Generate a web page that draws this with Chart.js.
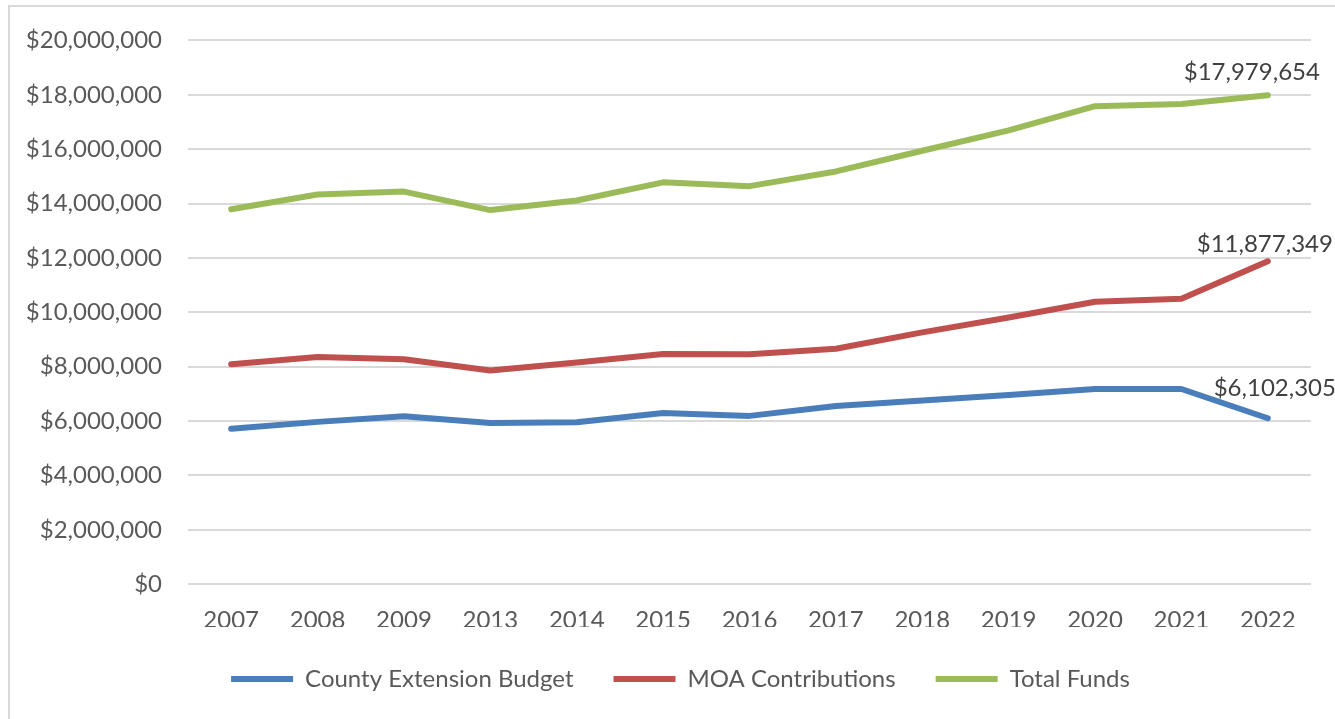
<!DOCTYPE html>
<html>
<head>
<meta charset="utf-8">
<script src="https://cdn.jsdelivr.net/npm/chart.js@4/dist/chart.umd.min.js"></script>
<style>
  html, body { margin: 0; padding: 0; background: #fff; }
  #wrap { position: relative; width: 1335px; height: 719px; }
  #frame { position: absolute; left: 8px; top: 5px; right: -10px; bottom: -10px;
           border-left: 2px solid #d9d9d9; border-top: 2px solid #d9d9d9; pointer-events: none; }
</style>
</head>
<body>
<div id="wrap">
  <canvas id="chart" width="1335" height="719"></canvas>
  <div id="frame"></div>
</div>
<script>
const years = ['2007', '2008', '2009', '2013', '2014', '2015', '2016', '2017', '2018', '2019', '2020', '2021', '2022'];
const countyBudget = [5720000, 5970000, 6180000, 5930000, 5960000, 6300000, 6190000, 6550000, 6760000, 6960000, 7180000, 7180000, 6102305];
const moaContrib = [8090000, 8360000, 8270000, 7860000, 8150000, 8470000, 8460000, 8660000, 9260000, 9810000, 10390000, 10500000, 11877349];
const totalFunds = [13790000, 14330000, 14440000, 13760000, 14110000, 14780000, 14640000, 15180000, 15940000, 16690000, 17580000, 17660000, 17979654];
const seriesNames = ['County Extension Budget', 'MOA Contributions', 'Total Funds'];
const seriesColors = ['#4a7ebb', '#c0504d', '#9bbb59'];

const FONT = 'Lato';
const money = v => '$' + Number(v).toLocaleString('en-US');

// label offsets for the end-of-line values (nudged like in the original)
const endLabelShift = [[7, -30], [-3, -17], [-16, -23]];

const endLabels = {
  id: 'endLabels',
  afterLayout(chart){
    // legend in the original sits a bit right of the canvas centre
    chart.legend.left += 25;
    chart.legend.right += 25;
  },
  afterDatasetsDraw(chart){
    const ctx = chart.ctx;
    ctx.save();
    ctx.font = `24px ${FONT}`;
    ctx.fillStyle = '#404040';
    ctx.textAlign = 'center';
    ctx.textBaseline = 'middle';
    chart.data.datasets.forEach(function(ds, i){
      const meta = chart.getDatasetMeta(i);
      const last = meta.data.length - 1;
      const pt = meta.data[last];
      ctx.fillText(money(ds.data[last]), pt.x + endLabelShift[i][0], pt.y + endLabelShift[i][1]);
    });
    ctx.restore();
  }
};

function makeSet(label, data, color){
  return {
    label: label,
    data: data,
    borderColor: color,
    backgroundColor: color,
    borderWidth: 6,
    borderCapStyle: 'round',
    borderJoinStyle: 'round',
    pointRadius: 0,
    pointStyle: 'line',
    tension: 0
  };
}

new Chart(document.getElementById('chart'), {
  type: 'line',
  plugins: [endLabels],
  data: {
    labels: years,
    datasets: [
      makeSet(seriesNames[0], countyBudget, seriesColors[0]),
      makeSet(seriesNames[1], moaContrib, seriesColors[1]),
      makeSet(seriesNames[2], totalFunds, seriesColors[2])
    ]
  },
  options: {
    responsive: false,
    animation: false,
    events: [],
    layout: {
      padding: { top: 36, right: 24, bottom: 18, left: 0 }
    },
    plugins: {
      tooltip: { enabled: false },
      legend: {
        position: 'bottom',
        labels: {
          usePointStyle: true,
          pointStyle: 'line',
          pointStyleWidth: 62,
          color: '#595959',
          padding: 40,
          font: { family: FONT, size: 24 }
        }
      }
    },
    scales: {
      x: {
        offset: true,
        grid: { display: false, drawTicks: false },
        border: { display: false },
        ticks: {
          color: '#595959',
          padding: 22,
          autoSkip: false,
          maxRotation: 0,
          font: { family: FONT, size: 24 }
        },
        // legend padding is big (for item spacing), so pull it up closer to the axis
        afterFit: function(scale){ scale.height -= 30; }
      },
      y: {
        min: 0,
        max: 20000000,
        grid: { color: '#d9d9d9', lineWidth: 2, drawTicks: false },
        border: { display: false },
        ticks: {
          stepSize: 2000000,
          color: '#595959',
          padding: 26,
          font: { family: FONT, size: 24 },
          callback: money
        },
        afterFit: function(scale){ scale.width = 188; }
      }
    }
  }
});
</script>
</body>
</html>
